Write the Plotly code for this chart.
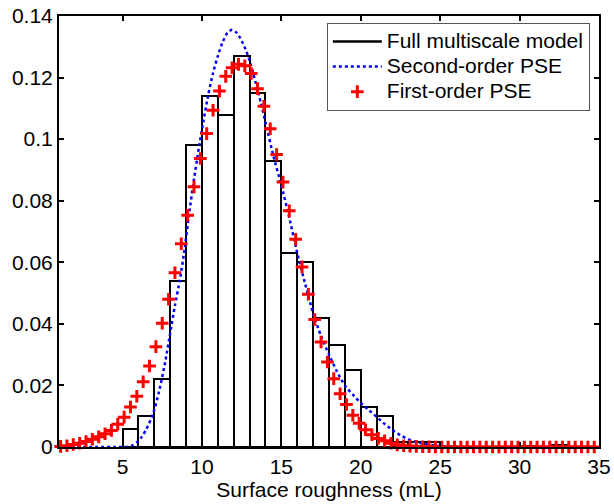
import plotly.graph_objects as go

# Histogram: full multiscale model (bin left edges, bin width 1)
bin_left = [5, 6, 7, 8, 9, 10, 11, 12, 13, 14, 15, 16, 17, 18, 19, 20, 21, 22, 23, 24, 30, 32]
bin_freq = [0.006, 0.010, 0.022, 0.054, 0.098, 0.114, 0.108, 0.127, 0.115, 0.093,
            0.063, 0.060, 0.042, 0.033, 0.025, 0.013, 0.010, 0.0017, 0.0017, 0.0017,
            0.0003, 0.0005]

# Second-order PSE (blue dotted curve)
pse2_x = [1.0, 4.5, 5.2, 5.6, 5.9, 6.2, 6.5, 6.9, 7.3, 7.7, 8.0, 8.3, 8.6, 8.9, 9.2, 9.5,
          9.8, 10.1, 10.4, 10.7, 11.0, 11.3, 11.6, 11.9, 12.2, 12.5, 12.8, 13.1, 13.4, 13.7,
          14.0, 14.5, 15.0, 15.5, 16.0, 16.5, 17.0, 17.5, 18.0, 18.5, 19.0, 19.5, 20.0, 20.5,
          21.0, 21.5, 22.0, 22.5, 23.0, 23.5, 24.0, 24.5, 25.0, 25.5, 26.0, 27.0, 35.0]
pse2_y = [0.0, 0.0, 0.0, 0.0005, 0.0015, 0.0032, 0.0058, 0.0105, 0.018, 0.028, 0.037, 0.046,
          0.054, 0.064, 0.076, 0.087, 0.097, 0.106, 0.1145, 0.1215, 0.127, 0.1315, 0.1345,
          0.1355, 0.1345, 0.132, 0.1285, 0.1238, 0.118, 0.112, 0.1055, 0.0945, 0.085, 0.0745,
          0.063, 0.053, 0.0435, 0.036, 0.030, 0.0245, 0.020, 0.017, 0.0143, 0.012, 0.0098,
          0.0075, 0.0055, 0.0038, 0.0025, 0.0016, 0.0010, 0.0006, 0.0003, 0.0002, 0.0001,
          0.0, 0.0]

# First-order PSE (red crosses)
pse1_x = [1.1, 1.5, 1.9, 2.3, 2.7, 3.1, 3.5, 3.9, 4.3, 4.7, 5.1, 5.5, 5.9, 6.3, 6.7, 7.1,
          7.5, 7.9, 8.3, 8.7, 9.1, 9.5, 9.9, 10.3, 10.7, 11.1, 11.5, 11.9, 12.3, 12.7, 13.1,
          13.5, 13.9, 14.3, 14.7, 15.1, 15.5, 15.9, 16.3, 16.7, 17.1, 17.5, 17.9, 18.3, 18.7,
          19.1, 19.5, 19.9, 20.3, 20.7, 21.1, 21.5, 21.9, 22.3, 22.7, 23.1, 23.5, 23.9, 24.3,
          24.7, 25.1, 25.5, 25.9, 26.3, 26.7, 27.1, 27.5, 27.9, 28.3, 28.7, 29.1, 29.5, 29.9,
          30.3, 30.7, 31.1, 31.5, 31.9, 32.3, 32.7, 33.1, 33.5, 33.9, 34.3, 34.7]
pse1_y = [0.0002, 0.0004, 0.0008, 0.0012, 0.0018, 0.0025, 0.0033, 0.0043, 0.0054, 0.0074,
          0.0097, 0.0130, 0.0165, 0.0212, 0.0263, 0.0326, 0.0402, 0.0480, 0.0566, 0.0660,
          0.0753, 0.0845, 0.0937, 0.1018, 0.1094, 0.1156, 0.1204, 0.1232, 0.1243, 0.1238,
          0.1213, 0.1164, 0.1107, 0.1034, 0.0950, 0.0861, 0.0767, 0.0675, 0.0585, 0.0496,
          0.0414, 0.0341, 0.0276, 0.0222, 0.0173, 0.0138, 0.0103, 0.0077, 0.0056, 0.0040,
          0.0028, 0.0020, 0.0012, 0.0007, 0.0004, 0.0003, 0.0002, 0.0001, 0.0001, 0.0,
          0.0, 0.0, 0.0, 0.0, 0.0, 0.0, 0.0, 0.0, 0.0, 0.0, 0.0, 0.0, 0.0, 0.0, 0.0,
          0.0, 0.0, 0.0, 0.0, 0.0, 0.0, 0.0, 0.0, 0.0, 0.0]

x_ticks = [5, 10, 15, 20, 25, 30, 35]
y_ticks = [0, 0.02, 0.04, 0.06, 0.08, 0.1, 0.12, 0.14]
x_range = [1, 35]
y_range = [0, 0.14]

FONT = "Liberation Sans, Arial, Helvetica, sans-serif"


def legend_label(s):
    return '<span style="font-size:21px">' + s + '</span>'


fig = go.Figure()
fig.add_trace(go.Bar(x=bin_left, y=bin_freq, width=1, offset=0,
                     marker=dict(color="white", line=dict(color="black", width=2)),
                     showlegend=False))
fig.add_trace(go.Scatter(x=[None], y=[None], mode="lines",
                         name=legend_label("Full multiscale model"),
                         line=dict(color="black", width=2.5)))
fig.add_trace(go.Scatter(x=pse2_x, y=pse2_y, mode="lines",
                         name=legend_label("Second-order PSE"),
                         line=dict(color="#0000ff", width=2.5, dash="dot", shape="spline",
                                   smoothing=0.6)))
fig.add_trace(go.Scatter(x=pse1_x, y=pse1_y, mode="markers",
                         name=legend_label("First-order PSE"),
                         cliponaxis=False,
                         marker=dict(symbol="cross-thin", size=9,
                                     line=dict(color="#ff0000", width=3), color="#ff0000")))

axis_common = dict(showline=True, linecolor="black", linewidth=2, mirror="ticks",
                   ticks="inside", ticklen=5, tickwidth=1.5, tickcolor="black",
                   showgrid=False, zeroline=False, automargin=False,
                   tickfont=dict(family=FONT, size=21, color="black"))

fig.update_layout(
    xaxis=dict(range=x_range, tickvals=x_ticks,
               title=dict(text="Surface roughness (mL)", standoff=4,
                          font=dict(family=FONT, size=21, color="black")),
               **axis_common),
    yaxis=dict(range=y_range, tickvals=y_ticks, **axis_common),
)

fig.update_layout(
    width=614, height=504,
    margin=dict(l=59, r=15, t=16, b=57, autoexpand=False),
    paper_bgcolor="white", plot_bgcolor="white",
    barmode="overlay", bargap=0,
    font=dict(family=FONT, size=21, color="black"),
    legend=dict(x=0.496, y=0.984, xanchor="left", yanchor="top",
                bgcolor="white", bordercolor="#555555", borderwidth=1,
                font=dict(family=FONT, size=17, color="black"),
                itemwidth=49, tracegroupgap=0),
)

fig.write_html("out.html")
